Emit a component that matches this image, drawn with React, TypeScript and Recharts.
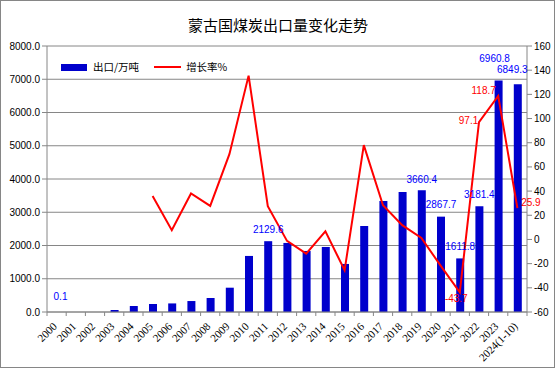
import { ComposedChart, Bar, Line, XAxis, YAxis, CartesianGrid, LabelList } from 'recharts';

const years = [
  '2000', '2001', '2002', '2003', '2004', '2005', '2006', '2007', '2008', '2009',
  '2010', '2011', '2012', '2013', '2014', '2015', '2016', '2017', '2018', '2019',
  '2020', '2021', '2022', '2023', '2024(1-10)',
];
// 出口/万吨
const exportsVol = [
  0.1, 0, 0, 60, 180, 240, 258, 330, 421, 731,
  1686, 2129.6, 2077, 1836, 1956, 1445, 2589, 3341, 3612, 3660.4,
  2867.7, 1611.8, 3181.4, 6960.8, 6849.3,
];
// 增长率%
const growthRate = [
  null, null, null, null, null, 36, 7.6, 38, 27.7, 70.5,
  135.5, 27.5, -1.2, -11.7, 6.8, -25.5, 78, 28.3, 11.8, 1.3,
  -21.7, -43.7, 97.1, 118.7, 25.9,
];
const leftTicks = [0, 1000, 2000, 3000, 4000, 5000, 6000, 7000, 8000];
const rightTicks = [-60, -40, -20, 0, 20, 40, 60, 80, 100, 120, 140, 160];

const exportLabelYears = ['2000', '2011', '2019', '2020', '2021', '2022', '2023', '2024(1-10)'];
const growthLabelYears = ['2021', '2022', '2023', '2024(1-10)'];

const data = years.map((year, i) => ({
  year,
  exports: exportsVol[i],
  growth: growthRate[i],
  exportTag: exportLabelYears.includes(year) ? year : null,
  growthTag: growthLabelYears.includes(year) ? year : null,
}));

// hand placed label nudges, like the original
const barLabelShift: Record<string, [number, number]> = {
  '2000': [3.5, -3],
  '2019': [0, 1.5],
  '2023': [-4, -10.5],
  '2024(1-10)': [-5.5, -2.5],
};
const growthLabelShift: Record<string, [number, number]> = {
  '2021': [-3.5, 6],
  '2022': [-10.5, -2],
  '2023': [-14.5, -5],
  '2024(1-10)': [13.5, -5.5],
};

const gray = '#868686';
const blue = '#0000cc';
const red = '#ff0000';
const sans = '"Liberation Sans", Arial, sans-serif';
const cjk = '"Noto Sans CJK SC", sans-serif';

const YearTick = ({ x, y, payload, index }: any) => {
  const half = payload && payload.offset ? payload.offset : 9.6;
  const last = index === years.length - 1;
  return (
    <g>
      <line x1={x - half} x2={x - half} y1={y} y2={y + 4} stroke={gray} />
      {last && <line x1={x + half} x2={x + half} y1={y} y2={y + 4} stroke={gray} />}
      <text
        transform={`translate(${x + 1},${y + 15}) rotate(-45)`}
        textAnchor="end"
        fontSize={11}
        fontFamily='"Liberation Serif", serif'
        fill="#000"
      >
        {payload.value}
      </text>
    </g>
  );
};

// value here is the year tag, the number comes from the series
const ExportLabel = (props: any) => {
  const { x, y, width, value } = props;
  if (!value) return null;
  const v = exportsVol[years.indexOf(value)];
  const [dx, dy] = barLabelShift[value] || [0, 0];
  return (
    <text x={x + width / 2 + dx} y={y - 12 + dy + 3.5} textAnchor="middle" fontSize={10} fontFamily={sans} fill="#0000ff">
      {v.toFixed(1)}
    </text>
  );
};

const GrowthLabel = (props: any) => {
  const { x, y, value } = props;
  if (!value || x == null || y == null) return null;
  const v = growthRate[years.indexOf(value)];
  if (v == null) return null;
  const [dx, dy] = growthLabelShift[value] || [0, 0];
  return (
    <text x={x + dx} y={y + dy + 3.5} textAnchor="middle" fontSize={10} fontFamily={sans} fill={red}>
      {v.toFixed(1)}
    </text>
  );
};

export default function App() {
  return (
    <div style={{ position: 'absolute', left: 0, top: 0, width: 556, height: 370, background: '#fff' }}>
      <div
        style={{
          position: 'absolute', left: 0, top: 0, width: 555, height: 368,
          border: `1px solid ${gray}`, boxSizing: 'border-box',
        }}
      />
      <div
        style={{
          position: 'absolute', left: 0, top: 14, width: 556, textAlign: 'center',
          fontFamily: cjk, fontSize: 15, lineHeight: '22px', color: '#000',
        }}
      >
        蒙古国煤炭出口量变化走势
      </div>
      <div style={{ position: 'absolute', left: 61, top: 60, fontFamily: cjk, fontSize: 10.5, lineHeight: '14px', color: '#000', display: 'flex', alignItems: 'center' }}>
        <span style={{ display: 'inline-block', width: 26, height: 7, background: blue, marginRight: 6 }} />
        <span>出口/万吨</span>
        <span style={{ display: 'inline-block', width: 27, height: 2, background: red, marginLeft: 15, marginRight: 5 }} />
        <span>增长率%</span>
      </div>
      <ComposedChart
        width={556}
        height={370}
        data={data}
        margin={{ top: 46, right: 0, bottom: 0, left: 0 }}
        style={{ position: 'absolute', left: 0, top: 0 }}
      >
        <CartesianGrid yAxisId="left" vertical={false} stroke={gray} strokeWidth={1} />
        <XAxis
          dataKey="year"
          interval={0}
          height={58}
          tickSize={0}
          tickMargin={0}
          tickLine={false}
          axisLine={{ stroke: gray }}
          tick={<YearTick />}
        />
        <YAxis
          yAxisId="left"
          domain={[0, 8000]}
          ticks={leftTicks}
          width={47}
          tickSize={5}
          tickMargin={2}
          tickFormatter={(v: number) => v.toFixed(1)}
          axisLine={{ stroke: gray }}
          tickLine={{ stroke: gray }}
          tick={{ fontSize: 10, fontFamily: sans, fill: '#000' }}
          interval={0}
        />
        <YAxis
          yAxisId="right"
          orientation="right"
          domain={[-60, 160]}
          ticks={rightTicks}
          width={29}
          tickSize={5}
          tickMargin={2}
          axisLine={{ stroke: gray }}
          tickLine={{ stroke: gray }}
          tick={{ fontSize: 10, fontFamily: sans, fill: '#000' }}
          interval={0}
        />
        <Bar yAxisId="left" dataKey="exports" fill={blue} barSize={8} isAnimationActive={false}>
          <LabelList dataKey="exportTag" content={ExportLabel} />
        </Bar>
        <Line
          yAxisId="right"
          dataKey="growth"
          type="linear"
          stroke={red}
          strokeWidth={2}
          dot={false}
          activeDot={false}
          isAnimationActive={false}
        >
          <LabelList dataKey="growthTag" content={GrowthLabel} />
        </Line>
      </ComposedChart>
    </div>
  );
}
